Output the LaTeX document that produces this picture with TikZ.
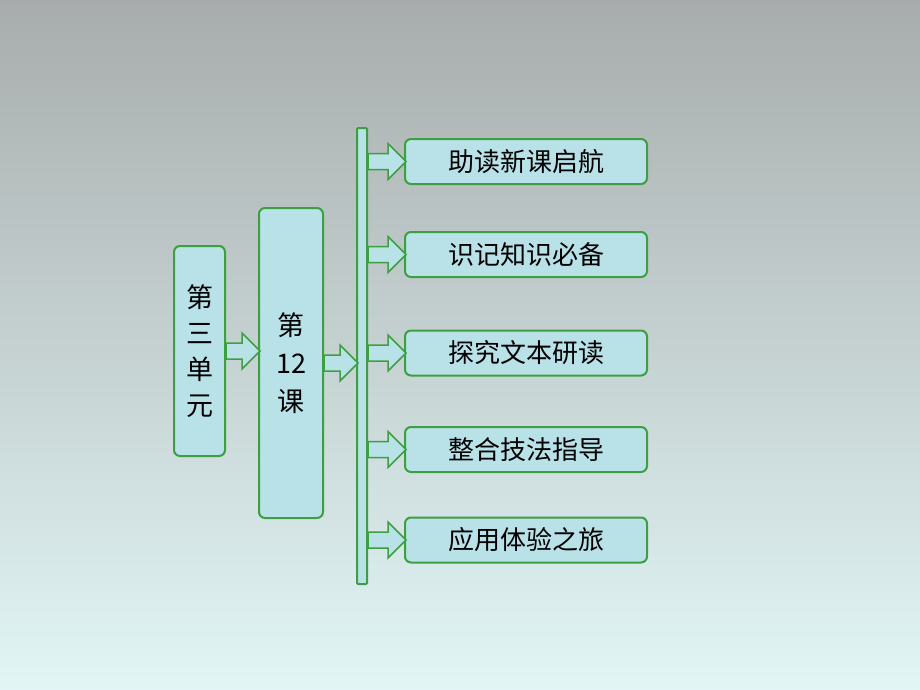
\documentclass[tikz,border=0pt]{standalone}
\usepackage{fontspec}
\newfontfamily\cjk{Noto Sans CJK SC}
\definecolor{boxfill}{RGB}{184,226,232}
\definecolor{boxline}{RGB}{60,160,64}
\begin{document}
\begin{tikzpicture}[x=1pt,y=-1pt,
  bx/.style={draw=boxline,line width=2pt,fill=boxfill,rounded corners=6pt},
  ar/.style={draw=boxline,line width=1.5pt,fill=boxfill,line join=miter},
  tx/.style={font=\cjk\fontsize{26}{30}\selectfont,text=black}]
\shade[top color={rgb,255:red,168;green,172;blue,172},bottom color={rgb,255:red,226;green,246;blue,246}] (0,0) rectangle (920,690);
\useasboundingbox (0,0) rectangle (920,690);
\node[bx,minimum width=51pt,minimum height=210pt,anchor=north west,inner sep=0pt,align=center,tx,font=\cjk\fontsize{27}{36}\selectfont] (a) at (173,245) {第\\三\\单\\元};
\node[bx,minimum width=64pt,minimum height=310pt,anchor=north west,inner sep=0pt,align=center,tx,font=\cjk\fontsize{27}{38}\selectfont] (b) at (258,207) {第\\12\\课};
\node[bx,rounded corners=1pt,minimum width=10pt,minimum height=456pt,anchor=north west,inner sep=0pt] (bar) at (356,127) {};
\foreach \i/\t/\y in {1/助读新课启航/161.5,2/识记知识必备/254.5,3/探究文本研读/353,4/整合技法指导/449.5,5/应用体验之旅/540}{
  \node[bx,minimum width=242pt,minimum height=45pt,anchor=west,inner sep=0pt,tx] (r\i) at (404,\y) {\t};
  \coordinate (s\i) at (bar.east |- r\i.west);
  \draw[ar] (s\i) ++(0,-8) -- ++(20,0) -- ++(0,-10) -- ++(18,18) -- ++(-18,18) -- ++(0,-10) -- ++(-20,0) -- cycle;
}
\coordinate (p) at (a.east);
\draw[ar] (p) ++(0,-8) -- ++(16,0) -- ++(0,-10) -- ++(18,18) -- ++(-18,18) -- ++(0,-10) -- ++(-16,0) -- cycle;
\coordinate (q) at (b.east);
\draw[ar] (q) ++(0,-8) -- ++(16,0) -- ++(0,-10) -- ++(18,18) -- ++(-18,18) -- ++(0,-10) -- ++(-16,0) -- cycle;
\end{tikzpicture}
\end{document}
